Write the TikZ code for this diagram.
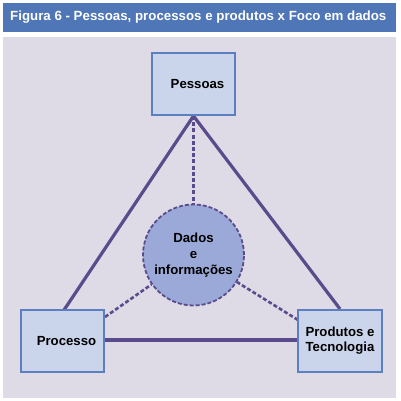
\documentclass[tikz,border=0pt]{standalone}
\usepackage{fontspec}
\setmainfont{Liberation Sans}
\definecolor{titlebg}{HTML}{4F76B6}
\definecolor{panel}{HTML}{DEDAE6}
\definecolor{boxfill}{HTML}{CAD4EA}
\definecolor{boxline}{HTML}{5B7FC0}
\definecolor{linec}{HTML}{5A4C8C}
\definecolor{circfill}{HTML}{9BA9D8}
\pgfdeclarelayer{bg}
\pgfdeclarelayer{panellayer}
\pgfsetlayers{panellayer,bg,main}
\tikzset{
  boxnode/.style={draw=boxline, line width=2pt, fill=boxfill, minimum width=83pt, minimum height=62pt, inner sep=0pt, align=center, font=\bfseries\fontsize{13.2}{16}\selectfont},
  solidlink/.style={draw=linec, line width=3.2pt},
  dashlink/.style={draw=linec, line width=2.6pt, dash pattern=on 4pt off 2.2pt},
}
\begin{document}
\begin{tikzpicture}[x=1pt,y=-1pt]
\useasboundingbox (0,0) rectangle (400,401);
\begin{pgfonlayer}{panellayer}
\fill[white] (0,0) rectangle (400,401);
\fill[titlebg] (3,3) rectangle (396,32);
\fill[panel] (3,37) rectangle (396,398);
\end{pgfonlayer}
\node[anchor=west, text=white, font=\bfseries\fontsize{13.3}{16}\selectfont, inner sep=0pt] (title) at (10,17.5) {Figura 6 - Pessoas, processos e produtos x Foco em dados};
\node[boxnode] (pes) at (193.5,84) {\hspace*{8pt}Pessoas};
\node[boxnode] (pro) at (62.5,341) {\hspace*{8pt}Processo};
\node[boxnode, minimum width=84pt] (prd) at (340,340.5) {Produtos e\\[-1pt]Tecnologia};
\node[circle, draw=linec, dash pattern=on 4pt off 2pt, line width=1.8pt, fill=circfill, minimum size=101pt, inner sep=0pt, align=center, font=\bfseries\fontsize{13.2}{16}\selectfont] (dat) at (193.5,255) {Dados\\e\\informações};
\coordinate (apex) at (pes.south);
\coordinate (protop) at (64,310);
\coordinate (prdtop) at (340,309);
\coordinate (procorner) at (105,317);
\coordinate (prdcorner) at (298,320);
\begin{pgfonlayer}{bg}
\draw[solidlink] (apex) -- (protop);
\draw[solidlink] (apex) -- (prdtop);
\draw[solidlink] (pro.east |- 0,340) -- (prd.west |- 0,340);
\draw[dashlink] (apex) -- (dat.north);
\draw[dashlink] (procorner) -- (dat);
\draw[dashlink] (prdcorner) -- (dat);
\end{pgfonlayer}
\end{tikzpicture}
\end{document}
